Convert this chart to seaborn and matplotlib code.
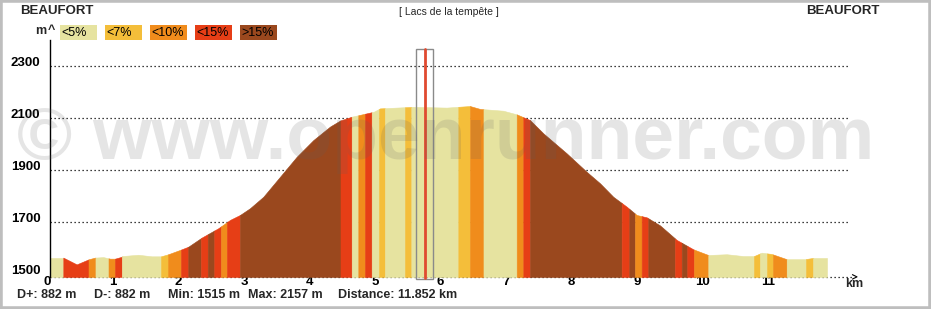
import numpy as np
import matplotlib
matplotlib.use("Agg")
import matplotlib.pyplot as plt
import matplotlib.transforms as mtransforms
from matplotlib.patches import Rectangle
import seaborn as sns

# ---------------- data ----------------
profile_km = [0.0, 0.203, 0.407, 0.595, 0.687, 0.813, 0.916, 0.992, 1.09, 1.10,
              1.347, 1.552, 1.694, 1.805, 2.010, 2.110, 2.315, 2.568, 2.747, 2.899,
              3.052, 3.255, 3.510, 3.765, 4.018, 4.273, 4.425, 4.604, 4.781, 4.94,
              5.036, 5.539, 6.054, 6.226, 6.409, 6.561, 6.917, 7.122, 7.325, 7.528,
              7.885, 8.190, 8.393, 8.596, 8.800, 8.953, 9.106, 9.309, 9.564, 9.817,
              10.046, 10.327, 10.58, 10.743, 10.861, 11.013, 11.242, 11.521, 11.648, 11.852]
profile_elev = [1563, 1563, 1537, 1557, 1563, 1565, 1559, 1559, 1566, 1569,
                1574, 1568, 1568, 1576, 1595, 1605, 1640, 1676, 1708, 1727,
                1753, 1797, 1874, 1951, 2015, 2067, 2090, 2105, 2115, 2124,
                2137, 2143, 2140, 2143, 2146, 2135, 2128, 2114, 2092, 2041,
                1964, 1893, 1849, 1797, 1759, 1727, 1718, 1687, 1631, 1595,
                1573, 1576, 1569, 1569, 1582, 1577, 1557, 1557, 1562, 1562]

band_start_km = [0.0, 0.203, 0.588, 0.694, 0.893, 0.992, 1.096, 1.694, 1.801, 1.999,
                 2.110, 2.304, 2.407, 2.507, 2.610, 2.700, 2.899, 4.433, 4.604, 4.705,
                 4.807, 4.909, 5.021, 5.112, 5.417, 5.514, 6.231, 6.409, 6.615, 7.122,
                 7.223, 7.325, 8.724, 8.840, 8.927, 9.029, 9.130, 9.538, 9.640, 9.725,
                 9.828, 10.046, 10.743, 10.835, 10.942, 11.033, 11.242, 11.537, 11.648]
band_class = [0, 3, 2, 0, 2, 3, 0, 1, 2, 3,
              4, 3, 4, 3, 2, 3, 4, 3, 0, 2,
              3, 0, 1, 0, 1, 0, 1, 2, 0, 2,
              3, 4, 3, 4, 2, 3, 4, 3, 4, 3,
              2, 0, 1, 0, 1, 2, 0, 1, 0]
total_km = 11.852

class_labels = ["<5%", "<7%", "<10%", "<15%", ">15%"]
class_colors = ["#E6E3A0", "#F4BE3A", "#F08C1C", "#E63E16", "#9A481E"]

y_ticks = [1500, 1700, 1900, 2100, 2300]
x_ticks = list(range(12))
marker_km = 5.715
stats = ["D+: 882 m", "D-: 882 m", "Min: 1515 m", "Max: 2157 m", "Distance: 11.852 km"]
stats_x_px = [17, 94, 168, 248, 338]
start_name = "BEAUFORT"
end_name = "BEAUFORT"
title = "[ Lacs de la tempête ]"

# ---------------- figure ----------------
sns.set_theme(style="white")
plt.rcParams["font.family"] = ["Liberation Sans", "DejaVu Sans"]

W, H = 931, 309
fig = plt.figure(figsize=(W / 100, H / 100), dpi=100)
fig.patch.set_facecolor("white")

def fx(px):
    return px / W

def fy(py):
    return 1 - py / H

ax_left, ax_right, ax_top, ax_bottom = 50, 857, 40, 277
ax = fig.add_axes([fx(ax_left), fy(ax_bottom), (ax_right - ax_left) / W, (ax_bottom - ax_top) / H])
ax.set_facecolor("none")
px_per_km = 65.53
px_per_m = 0.26
ymin = 1500 - (ax_bottom - 274) / px_per_m
ymax = 1500 + (274 - ax_top) / px_per_m
xmax = (ax_right - ax_left) / px_per_km
ax.set_xlim(0, xmax)
ax.set_ylim(ymin, ymax)

# watermark
fig.text(fx(446), fy(139), "© www.openrunner.com", fontsize=54, fontweight="bold",
         color="#606060", alpha=0.16, ha="center", va="center", zorder=10)

# grid lines
grid_end = (848 - ax_left) / px_per_km
for yv in y_ticks[1:]:
    ax.plot([0, grid_end], [yv, yv], color="black", lw=0.9, ls=(0, (1, 2.2)), zorder=1)
ax.plot([0, (853 - ax_left) / px_per_km], [ymin + 0.5, ymin + 0.5], color="black", lw=0.9,
        ls=(0, (1, 2.2)), zorder=1, clip_on=False)
# arrow head at end of x axis
ah = (857 - ax_left) / px_per_km
ax.plot([ah - 0.07, ah, ah - 0.07], [ymin + 9, ymin + 0.5, ymin - 8], color="black", lw=0.8,
        clip_on=False, zorder=3)

# profile bands
pk = np.array(profile_km)
pe = np.array(profile_elev)
ends = band_start_km[1:] + [total_km]
for s, e, c in zip(band_start_km, ends, band_class):
    inner = pk[(pk > s) & (pk < e)]
    xs = np.concatenate([[s], inner, [e]])
    ys = np.interp(xs, pk, pe)
    ax.fill_between(xs, ys, ymin, color=class_colors[c], lw=0.4, edgecolor=class_colors[c],
                    zorder=2)

# marker box with red line
bw = 8.5 / px_per_km
box_top = 1500 + (274 - 49) / px_per_m
box_bot = 1500 + (274 - 278.5) / px_per_m
ax.add_patch(Rectangle((marker_km - bw, box_bot), 2 * bw, box_top - box_bot, fill=False,
                       edgecolor="#8a8a8a", lw=1.0, zorder=5, clip_on=False))
ax.plot([marker_km, marker_km], [box_bot + 2, box_top], color="#E04A30", lw=2.0, zorder=6,
        clip_on=False)

# axes styling
for sp in ["top", "right", "bottom"]:
    ax.spines[sp].set_visible(False)
ax.spines["left"].set_color("black")
ax.spines["left"].set_linewidth(1.0)
ax.spines["left"].set_zorder(7)

ax.set_yticks(y_ticks)
ax.set_yticklabels([str(v) for v in y_ticks], fontsize=9.5, fontweight="bold", color="black")
ax.set_xticks(x_ticks)
ax.set_xticklabels([str(v) for v in x_ticks], fontsize=9.5, fontweight="bold", color="black")
ax.tick_params(axis="y", length=0, pad=7)
ax.tick_params(axis="x", length=0, pad=0)
up = mtransforms.ScaledTranslation(0, 0.04, fig.dpi_scale_trans)
for lab in ax.get_yticklabels():
    lab.set_transform(lab.get_transform() + up)
shift = mtransforms.ScaledTranslation(-0.025, 0.01, fig.dpi_scale_trans)
for lab in ax.get_xticklabels():
    lab.set_transform(lab.get_transform() + shift)
ax.grid(False)

# axis units
fig.text(fx(41), fy(31), "m", fontsize=9, fontweight="bold", ha="center", va="center")
fig.text(fx(51), fy(30), "^", fontsize=9, fontweight="bold", ha="center", va="center")
fig.text(fx(854), fy(284), "km", fontsize=9, fontweight="bold", ha="center", va="center")

# header texts
fig.text(fx(20), fy(11), start_name, fontsize=9.5, fontweight="bold", ha="left", va="center")
fig.text(fx(806), fy(11), end_name, fontsize=9.5, fontweight="bold", ha="left", va="center")
fig.text(fx(449), fy(12), title, fontsize=7.5, ha="center", va="center")

# legend boxes
box_lefts = [60, 105, 150, 195, 240]
for bl, lab, col in zip(box_lefts, class_labels, class_colors):
    fig.patches.append(Rectangle((fx(bl), fy(40)), 36.5 / W, 15 / H, transform=fig.transFigure,
                                 facecolor=col, edgecolor="none", figure=fig))
    fig.text(fx(bl + 1), fy(32.5), lab, fontsize=9, ha="left", va="center", color="black")

# stats
for sx, st in zip(stats_x_px, stats):
    fig.text(fx(sx), fy(295), st, fontsize=9, fontweight="bold", ha="left", va="center")

# outer border
fig.patches.append(Rectangle((0, 0), 1, 1, transform=fig.transFigure, fill=False,
                             edgecolor="#BEBEBE", lw=4, figure=fig))

fig.savefig("out.png", dpi=100)
